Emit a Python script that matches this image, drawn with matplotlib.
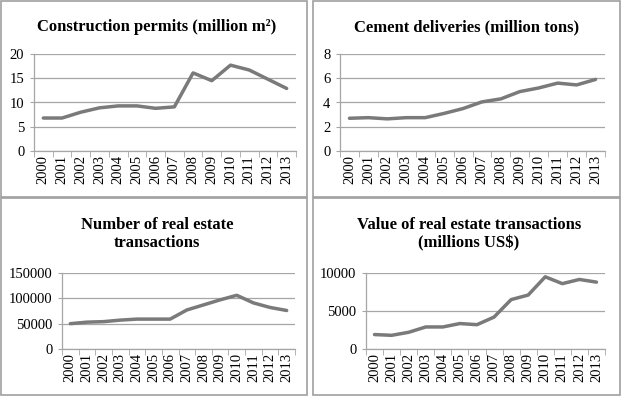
import numpy as np
import matplotlib.pyplot as plt
from matplotlib.patches import Rectangle

years = [str(y) for y in range(2000, 2014)]

permits = [6.8, 6.8, 8.0, 8.9, 9.3, 9.3, 8.8, 9.1, 16.1, 14.5, 17.7, 16.7, 14.8, 12.9]
cement = [2.7, 2.75, 2.65, 2.75, 2.75, 3.1, 3.5, 4.05, 4.3, 4.9, 5.2, 5.6, 5.45, 5.9]
n_trans = [50000, 53000, 54000, 57000, 59000, 59000, 59000, 77000, 87000, 97000,
           106000, 91000, 82000, 76000]
v_trans = [1900, 1800, 2200, 2900, 2900, 3350, 3200, 4200, 6500, 7100,
           9500, 8600, 9150, 8800]

titles = ["Construction permits (million m\u00b2)", "Cement deliveries (million tons)",
          "Number of real estate\ntransactions", "Value of real estate transactions\n(millions US$)"]
yticks = [[0, 5, 10, 15, 20], [0, 2, 4, 6, 8], [0, 50000, 100000, 150000], [0, 5000, 10000]]
series = [permits, cement, n_trans, v_trans]

W, H = 625, 396
plt.rcParams["font.family"] = ["Liberation Serif", "DejaVu Serif"]

fig = plt.figure(figsize=(W / 100, H / 100), dpi=100)

# plot areas in pixels: left, top, right, bottom
boxes = [(34, 54, 296, 151), (340, 54, 605, 151), (62, 273, 295, 349), (366, 273, 605, 349)]
title_pos = [(157, 27), (467, 27), (157, 234), (469, 234)]
panels = [(1, 1, 307, 197), (313, 1, 620, 197), (1, 198, 307, 395), (313, 198, 620, 395)]

line_col = "#7a7a7a"
grid_col = "#a6a6a6"

for (x0, y0, x1, y1) in panels:
    fig.patches.append(Rectangle((x0 / W, 1 - y1 / H), (x1 - x0) / W, (y1 - y0) / H,
                                 transform=fig.transFigure, fill=False,
                                 edgecolor="#a0a0a0", linewidth=1.2))

x = np.arange(len(years))
for i in range(4):
    l, t, r, b = boxes[i]
    ax = fig.add_axes([l / W, 1 - b / H, (r - l) / W, (b - t) / H])
    ax.plot(x, series[i], color=line_col, linewidth=2.5, solid_capstyle="round")
    ax.set_xlim(-0.5, len(years) - 0.5)
    ax.set_ylim(yticks[i][0], yticks[i][-1])
    ax.set_yticks(yticks[i])
    ax.set_yticklabels([str(v) for v in yticks[i]], fontsize=10.5)
    ax.set_xticks(x)
    ax.set_xticklabels(years, rotation=90, fontsize=10.5)
    ax.set_xticks(np.arange(-0.5, len(years)), minor=True)
    ax.tick_params(axis="x", which="major", length=0, pad=3)
    ax.tick_params(axis="x", which="minor", length=4, color=grid_col)
    ax.tick_params(axis="y", length=3, color=grid_col, pad=4)
    ax.grid(axis="y", color=grid_col, linewidth=0.9)
    ax.set_axisbelow(True)
    for s in ["top", "right"]:
        ax.spines[s].set_visible(False)
    for s in ["left", "bottom"]:
        ax.spines[s].set_color(grid_col)
        ax.spines[s].set_linewidth(0.9)
    tx, ty = title_pos[i]
    fig.text(tx / W, 1 - ty / H, titles[i], ha="center", va="center",
             fontsize=12, fontweight="bold", linespacing=1.15)

fig.savefig("out.png", dpi=100)
